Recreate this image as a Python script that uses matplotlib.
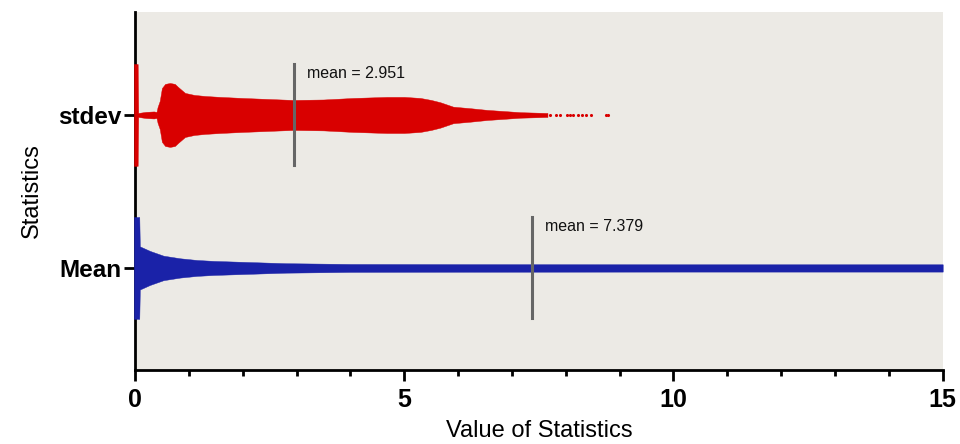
import matplotlib
matplotlib.use('Agg')
import matplotlib.pyplot as plt
from matplotlib.ticker import MultipleLocator

plt.rcParams['font.family'] = ['Liberation Sans', 'DejaVu Sans']

# Categories on the y axis (0 = Mean, 1 = stdev)
categories = ['Mean', 'stdev']

# Outline of the stdev swarm: value vs half spread (in category units)
stdev_x = [-0.02, 0.05, 0.06, 0.20, 0.35, 0.40, 0.42, 0.46, 0.50, 0.56, 0.65,
           0.74, 0.80, 0.93, 1.10, 1.30, 1.58, 2.00, 2.94, 3.50, 4.05, 4.68,
           5.00, 5.30, 5.50, 5.67, 5.91, 6.23, 6.54, 7.16, 7.66]
stdev_w = [0.333, 0.333, 0.013, 0.020, 0.023, 0.020, 0.052, 0.092, 0.176, 0.203, 0.209,
           0.203, 0.183, 0.144, 0.131, 0.124, 0.118, 0.111, 0.098, 0.101, 0.111, 0.118,
           0.118, 0.111, 0.098, 0.083, 0.054, 0.044, 0.033, 0.018, 0.013]
# Sparse points in the stdev tail
stdev_tail = [7.71, 7.81, 7.90, 8.03, 8.08, 8.14, 8.22, 8.31, 8.38, 8.46, 8.74, 8.79]

# Outline of the Mean swarm
mean_x = [-0.02, 0.08, 0.09, 0.28, 0.53, 0.84, 1.15, 1.46, 2.08, 2.80, 4.00, 6.00, 10.0, 15.0]
mean_w = [0.333, 0.333, 0.141, 0.111, 0.080, 0.063, 0.052, 0.046, 0.039, 0.031, 0.026,
          0.025, 0.024, 0.024]

# Means of each statistic
means = [7.379, 2.951]

red = '#D90000'
blue = '#1A22A8'

fig = plt.figure(figsize=(9.6, 4.44), dpi=100)
ax = fig.add_axes([0.1406, 0.1667, 0.8414, 0.8063])
ax.set_facecolor('#ECEAE5')

# Swarms
ax.fill_between(mean_x, [0 - w for w in mean_w], [0 + w for w in mean_w],
                color=blue, lw=0.3, edgecolor=blue, zorder=3, clip_on=False)
ax.fill_between(stdev_x, [1 - w for w in stdev_w], [1 + w for w in stdev_w],
                color=red, lw=0.3, edgecolor=red, zorder=3, clip_on=False)
ax.scatter(stdev_tail, [1] * len(stdev_tail), s=5, color=red, lw=0, zorder=3)

# Mean lines and labels
for i, m in enumerate(means):
    ax.plot([m, m], [i - 0.33, i + 0.33], color='#666666', lw=2.2, zorder=4)
    ax.text(m + 0.24, i + 0.27, 'mean = %.3f' % m, fontsize=11.5,
            va='center', ha='left', color='#111111', zorder=5)

ax.set_xlim(0, 15)
ax.set_ylim(-0.667, 1.673)
ax.set_yticks([0, 1])
ax.set_yticklabels(categories, fontsize=17.5, fontweight='bold')
ax.set_xticks([0, 5, 10, 15])
ax.set_xticklabels(['0', '5', '10', '15'], fontsize=18, fontweight='bold')
ax.xaxis.set_minor_locator(MultipleLocator(1))

for s in ['top', 'right']:
    ax.spines[s].set_visible(False)
for s in ['left', 'bottom']:
    ax.spines[s].set_linewidth(2)
    ax.spines[s].set_zorder(2)

ax.tick_params(axis='x', which='major', length=8, width=2, pad=5)
ax.tick_params(axis='x', which='minor', length=4.5, width=2)
ax.tick_params(axis='y', which='major', length=8, width=2, pad=2)

ax.set_xlabel('Value of Statistics', fontsize=17, labelpad=6)
ax.set_ylabel('Statistics', fontsize=17, labelpad=11)

plt.savefig('out.png', dpi=100)
